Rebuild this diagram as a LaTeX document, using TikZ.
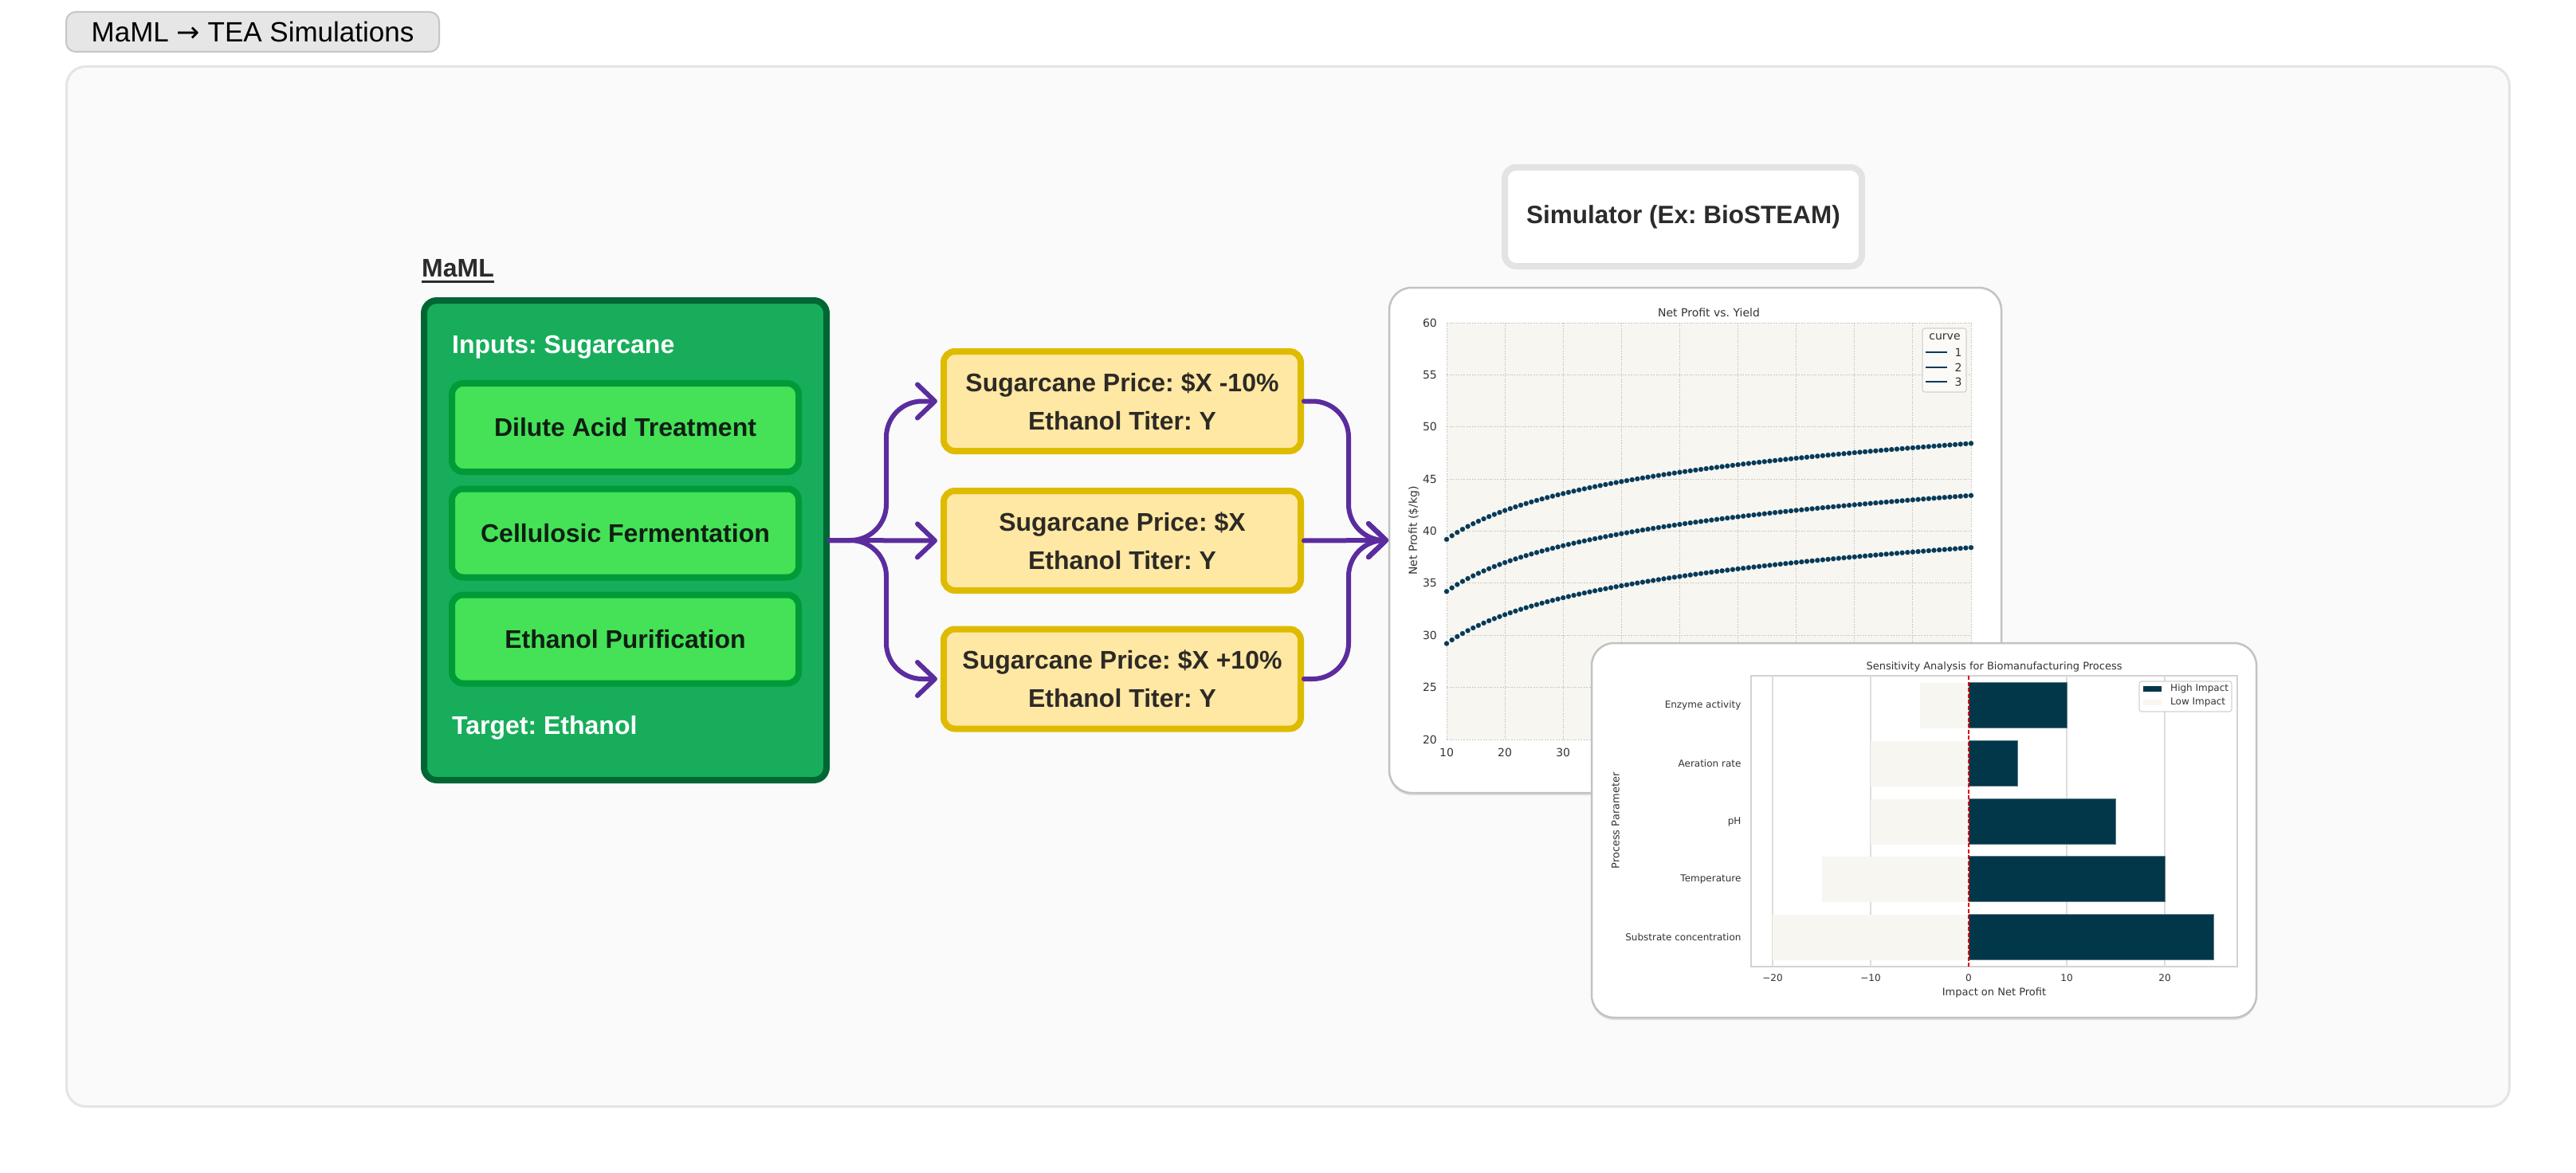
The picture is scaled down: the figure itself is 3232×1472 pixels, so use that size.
\documentclass[tikz,border=0pt]{standalone}
\usepackage{fontspec}
\setmainfont{Liberation Sans}
\newfontfamily\dv{DejaVu Sans}
\usetikzlibrary{arrows.meta,shadows}
\definecolor{frameFill}{HTML}{FAFAFA}
\definecolor{frameLine}{HTML}{E4E4E4}
\definecolor{titleFill}{HTML}{E6E6E6}
\definecolor{titleLine}{HTML}{C6C6C6}
\definecolor{gFill}{HTML}{17AD5B}
\definecolor{gLine}{HTML}{006633}
\definecolor{iFill}{HTML}{45E157}
\definecolor{iLine}{HTML}{009A38}
\definecolor{iTxt}{HTML}{0F1F12}
\definecolor{yFill}{HTML}{FFE8A3}
\definecolor{yLine}{HTML}{DFBB00}
\definecolor{yTxt}{HTML}{2D2A26}
\definecolor{purp}{HTML}{5B2C9E}
\definecolor{simLine}{HTML}{E3E3E3}
\definecolor{cardLine}{HTML}{C2C2C2}
\definecolor{plotBg}{HTML}{F8F6F0}
\definecolor{gridc}{HTML}{C9C9C9}
\definecolor{dotc}{HTML}{063A59}
\definecolor{barHi}{HTML}{023749}
\definecolor{barEdge}{HTML}{5C7A88}
\definecolor{barLo}{HTML}{F7F6F0}
\definecolor{txt}{HTML}{2B2B2B}
\definecolor{axtxt}{HTML}{333333}
\definecolor{grid2c}{HTML}{DDDDDD}
\definecolor{axframec}{HTML}{D2D2D2}
\definecolor{redc}{HTML}{E00000}
\tikzset{
  framebox/.style={draw=frameLine, line width=3pt, fill=frameFill, rounded corners=24pt,
    minimum width=3065pt, minimum height=1305pt, inner sep=0pt, outer sep=0pt},
  titlebox/.style={draw=titleLine, line width=2pt, fill=titleFill, rounded corners=12pt,
    minimum width=468pt, minimum height=50pt, inner sep=0pt, outer sep=0pt,
    font=\fontsize{35}{40}\selectfont, text=black},
  gbox/.style={draw=gLine, line width=8pt, fill=gFill, rounded corners=16pt,
    minimum width=505pt, minimum height=602pt, inner sep=0pt, outer sep=0pt},
  gtext/.style={anchor=base west, inner sep=0pt, text=white, font=\bfseries\fontsize{32}{38}\selectfont},
  ibox/.style={draw=iLine, line width=8pt, fill=iFill, rounded corners=14pt,
    minimum width=435pt, minimum height=111pt, inner sep=0pt, outer sep=0pt,
    text=iTxt, font=\bfseries\fontsize{32}{38}\selectfont},
  ybox/.style={draw=yLine, line width=8pt, fill=yFill, rounded corners=14pt,
    minimum width=448pt, minimum height=125pt, inner sep=0pt, outer sep=0pt, align=center,
    text=yTxt, font=\bfseries\fontsize{32}{48}\selectfont},
  simbox/.style={draw=simLine, line width=8pt, fill=white, rounded corners=14pt,
    minimum width=448pt, minimum height=124pt, inner sep=0pt, outer sep=0pt,
    text=txt, font=\bfseries\fontsize{31.5}{38}\selectfont},
  card/.style={draw=cardLine, line width=2.5pt, fill=white, rounded corners=28pt,
    inner sep=0pt, outer sep=0pt,
    drop shadow={shadow xshift=0pt, shadow yshift=-3pt, opacity=0.10, fill=black}},
  arr/.style={draw=purp, line width=6pt, rounded corners=45pt, line cap=round,
    -{Straight Barb[length=22pt,width=42pt,round]}},
  tone/.style={inner sep=0pt, text=axtxt, font=\dv\fontsize{14}{16}\selectfont},
  ttwo/.style={inner sep=0pt, text=axtxt, font=\dv\fontsize{12}{14}\selectfont},
  tlab/.style={inner sep=0pt, text=axtxt, font=\dv\fontsize{13}{15}\selectfont},
  gridone/.style={draw=gridc, line width=1pt, dash pattern=on 2pt off 1.5pt},
  gridtwo/.style={draw=grid2c, line width=1.3pt},
  legbox/.style={draw=axframec, line width=1.2pt, rounded corners=3pt, inner sep=0pt, outer sep=0pt},
  every node/.append style={execute at begin node=\frenchspacing}
}
\begin{document}
\frenchspacing
\begin{tikzpicture}[x=1pt,y=-1pt]
\useasboundingbox (0,0) rectangle (3232,1472);
\fill[white] (0,0) rectangle (3232,1472);

% frame and title
\node[framebox] (frame) at (1616,736) {};
\node[titlebox] (title) at (317,40) {MaML {\dv →} TEA Simulations};

% MaML block
\node[anchor=base west, inner sep=0pt, text=txt, font=\bfseries\fontsize{32}{38}\selectfont] (mamlLabel) at (529,347) {MaML};
\draw[txt, line width=3pt] ([yshift=-6pt]mamlLabel.base west) -- ([yshift=-6pt]mamlLabel.base east);
\node[gbox] (maml) at (784.5,678) {};
\node[gtext] (inputs) at (567,443) {Inputs: Sugarcane};
\node[ibox] (s1) at (784.5,536.5) {Dilute Acid Treatment};
\node[ibox] (s2) at (784.5,669) {Cellulosic Fermentation};
\node[ibox] (s3) at (784.5,802) {Ethanol Purification};
\node[gtext] (target) at (567,921) {Target: Ethanol};

% scenario boxes
\node[ybox] (y1) at (1408,503.5) {Sugarcane Price: \$X -10\%\\Ethanol Titer: Y};
\node[ybox] (y2) at (1408,678.5) {Sugarcane Price: \$X\\Ethanol Titer: Y};
\node[ybox] (y3) at (1408,852) {Sugarcane Price: \$X +10\%\\Ethanol Titer: Y};

% simulator
\node[simbox] (sim) at (2112,272) {Simulator (Ex: BioSTEAM)};

% chart card 1
\node[card, minimum width=768pt, minimum height=634pt] (c1) at (2127,678) {};

% connectors
\coordinate (lsplit) at (1112,678);
\coordinate (rjoin) at (1692,678);
\draw[arr, shorten <=4pt, shorten >=8pt] (maml.east) -- (lsplit) |- (y1.west);
\draw[arr, shorten <=4pt, shorten >=8pt] (maml.east) -- (lsplit) |- (y3.west);
\draw[arr, shorten <=4pt, shorten >=8pt] (maml.east) -- (y2.west);
\draw[arr, shorten <=4pt, shorten >=1pt] (y1.east) -| (rjoin) -- (c1.west);
\draw[arr, shorten <=4pt, shorten >=1pt] (y3.east) -| (rjoin) -- (c1.west);
\draw[arr, shorten <=4pt, shorten >=1pt] (y2.east) -- (c1.west);

% chart 1 contents
\begin{scope}[shift={(1815,928)}, x=7.311pt, y=13.075pt]
  \fill[plotBg] (0,0) rectangle (90,40);
  \foreach \gx in {0,10,...,90} \draw[gridone] (\gx,0) -- (\gx,40);
  \foreach \gy in {0,5,...,40} \draw[gridone] (0,\gy) -- (90,\gy);
  \foreach \c in {10,5,0}
    \draw[dotc, mark=*, mark size=3pt, mark options={fill=dotc, line width=0.2pt}]
      plot[only marks, samples=100, domain=0:90] (\x,{4*ln(\x+10)+\c});
  \foreach \v [count=\i] in {20,25,...,60}
    \node[tone, anchor=east] (yt\i) at ({-1.64},{\v-20}) {\v};
  \foreach \v [count=\i] in {10,20,30}
    \node[tone, anchor=north] (xt\i) at ({\v-10},{-0.85}) {\v};
  \node[tone] (c1title) at (45,41) {Net Profit vs. Yield};
\end{scope}
\node[tone, rotate=90] (c1ylab) at (1774,666) {Net Profit (\$/kg)};
\node[legbox, fill=plotBg!60!white, minimum width=55pt, minimum height=80pt] (leg1) at (2439.5,452) {};
\node[tone] (leg1t) at (2440,423) {curve};
\foreach \yy/\n [count=\i] in {442/1,461/2,479/3} {
  \draw[dotc, line width=2pt] (2416,\yy) -- (2443,\yy);
  \node[tone] (leg1e\i) at (2457,\yy) {\n};
}

% chart card 2
\node[card, minimum width=834pt, minimum height=470pt] (c2) at (2414,1042) {};
\node[tlab] (c2title) at (2502,837) {Sensitivity Analysis for Biomanufacturing Process};
\begin{scope}[shift={(2470,0)}, x=12.3pt]
  \draw[draw=axframec, line width=1.5pt, fill=white] (-22.2,848) rectangle (27.4,1213);
  \foreach \g in {-20,-10,10,20} \draw[gridtwo] (\g,848) -- (\g,1213);
  \foreach \yc/\lo/\hi/\lab [count=\i] in {885/-5/10/Enzyme activity, 958/-10/5/Aeration rate, 1031/-10/15/pH, 1103/-15/20/Temperature, 1176/-20/25/Substrate concentration} {
    \fill[barLo] (\lo,{\yc-28.5}) rectangle (0,{\yc+28.5});
    \draw[fill=barHi, draw=barEdge, line width=0.8pt] (0,{\yc-28.5}) rectangle (\hi,{\yc+28.5});
    \node[ttwo, anchor=east] (row\i) at ({-23.2},\yc) {\lab};
  }
  \draw[redc, line width=1.6pt, dash pattern=on 5pt off 2.5pt] (0,848) -- (0,1213);
  \foreach \v/\t [count=\i] in {-20/−20,-10/−10,0/0,10/10,20/20}
    \node[ttwo, anchor=north] (xb\i) at (\v,1222) {\t};
\end{scope}
\node[tlab] (c2xlab) at (2502,1246) {Impact on Net Profit};
\node[tlab, rotate=90] (c2ylab) at (2027,1030) {Process Parameter};
\node[legbox, fill=white, minimum width=116pt, minimum height=38pt] (leg2) at (2742,874) {};
\fill[barHi] (2689,861) rectangle (2712,868);
\fill[barLo] (2689,878) rectangle (2712,885);
\node[ttwo, anchor=west] (leg2a) at (2723,864.5) {High Impact};
\node[ttwo, anchor=west] (leg2b) at (2723,881.5) {Low Impact};
\end{tikzpicture}
\end{document}
